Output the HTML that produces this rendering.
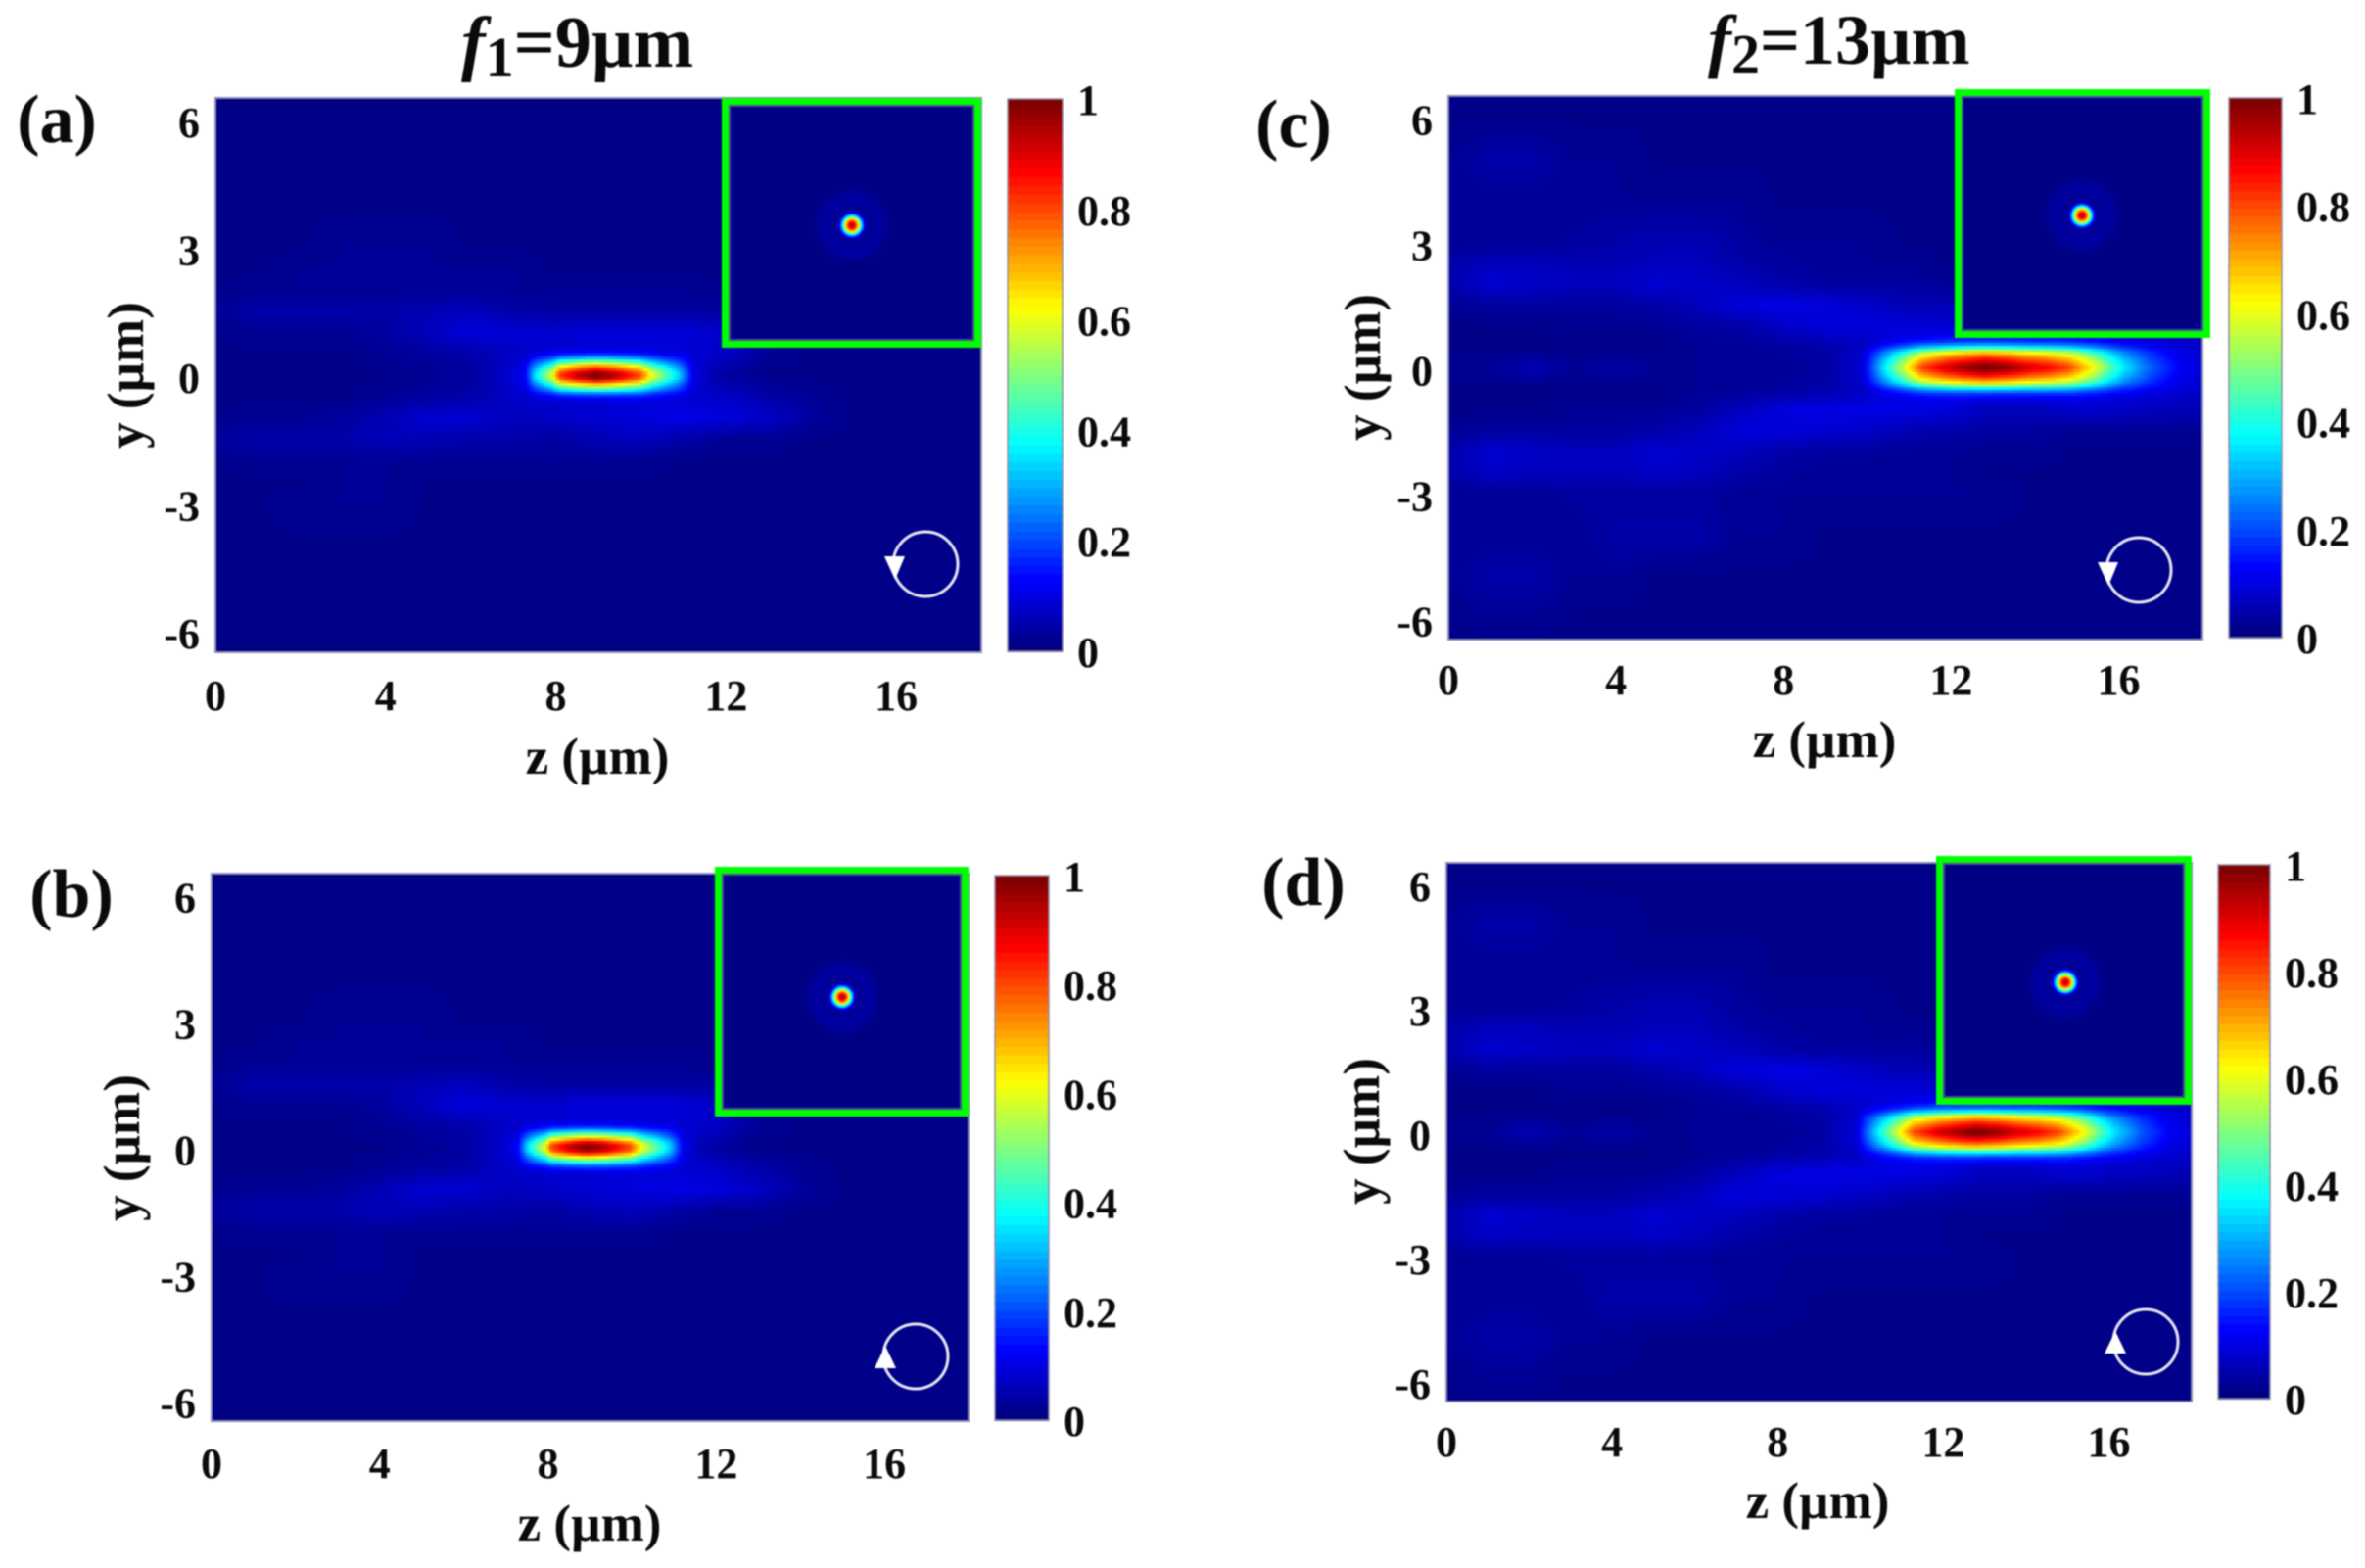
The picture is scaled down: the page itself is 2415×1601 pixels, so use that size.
<!DOCTYPE html>
<html lang="en">
<head>
<meta charset="utf-8">
<title>Focal field maps for f1=9 µm and f2=13 µm</title>
<style>
html,body{margin:0;padding:0;background:#fff;}
svg{display:block;filter:blur(0.7px);}
text{font-family:"Liberation Serif","DejaVu Serif",serif;font-weight:bold;fill:#0a0a0a;}
</style>
</head>
<body>
<svg id="figure" xmlns="http://www.w3.org/2000/svg" width="2415" height="1601" viewBox="0 0 2415 1601">
<rect x="0" y="0" width="2415" height="1601" fill="#ffffff"/>
<text x="471" y="68" font-size="74"><tspan font-style="italic">f</tspan><tspan dy="10" font-size="58">1</tspan><tspan dy="-10">=9µm</tspan></text>
<text x="1744" y="65" font-size="72"><tspan font-style="italic">f</tspan><tspan dy="10" font-size="58">2</tspan><tspan dy="-10">=13µm</tspan></text>
</svg>
<script>
const zTicks = [0, 4, 8, 12, 16];
const yTicks = [6, 3, 0, -3, -6];
const yTickLabels = ['6', '3', '0', '-3', '-6'];
const colorbarTicks = [0, 0.2, 0.4, 0.6, 0.8, 1];
const colorbarTickLabels = ['0', '0.2', '0.4', '0.6', '0.8', '1'];

const hazeZ = [0,1,2,3,4,5,6,7,8,9,10,11,12,13,14,15,16,17,18];
const hazeY = [6.5,6,5,4,3,2.5,2,1.5,1,0.5,0,-0.5,-1,-1.5,-2,-2.5,-3,-4,-5,-6,-6.5];
const hazeFloorPercent = 1;

const hazeF1 = [
[1,1,1,1,1,1,1,1,1,1,1,1,1,1,1,1,1,1,1],
[2,2,2,2,2,2,2,2,2,2,2,2,2,2,2,2,2,2,2],
[2,2,2,2,2,2,2,2,2,2,2,2,2,2,2,2,2,2,2],
[2,2,2,2,2,2,2,2,2,2,2,2,2,2,2,2,2,2,2],
[2,2,2,3,3,3,2,2,2,2,2,2,2,2,2,2,2,2,2],
[2,2,3,3,3,3,3,3,2,2,2,2,2,2,2,2,2,2,2],
[2,3,3,3,3,3,3,3,3,3,3,3,2,2,2,2,2,2,2],
[3,5,5,5,5,6,7,5,4,4,4,4,4,3,2,2,2,2,2],
[2,3,3,3,4,7,10,9,9,10,10,10,8,3,2,2,2,2,2],
[2,2,2,2,3,4,5,8,9,9,9,9,8,3,2,2,2,2,2],
[2,2,2,2,2,3,4,9,12,12,12,9,4,2,2,2,2,2,2],
[2,2,2,2,3,4,5,8,9,9,10,9,8,5,3,2,2,2,2],
[2,3,3,4,6,9,9,7,8,9,10,11,10,8,4,2,2,2,2],
[4,5,5,5,7,6,5,5,4,6,7,5,3,3,2,2,2,2,2],
[2,3,3,3,3,3,3,3,3,3,3,2,2,2,2,2,2,2,2],
[2,2,2,3,3,2,2,2,2,2,2,2,2,2,2,2,2,2,2],
[2,2,3,3,3,2,2,2,2,2,2,2,2,2,2,2,2,2,2],
[2,2,2,2,2,2,2,2,2,2,2,2,2,2,2,2,2,2,2],
[2,2,2,2,2,2,2,2,2,2,2,2,2,2,2,2,2,2,2],
[2,2,2,2,2,2,2,2,2,2,2,2,2,2,2,2,2,2,2],
[1,1,1,1,1,1,1,1,1,1,1,1,1,1,1,1,1,1,1]
];

const hazeF2 = [
[2,2,2,2,2,2,2,2,2,2,2,2,2,2,2,2,2,2,2],
[2,2,2,2,2,2,2,2,2,2,2,2,2,2,2,2,2,2,2],
[3,5,5,3,3,2,2,2,2,2,2,2,2,2,2,2,2,2,2],
[3,3,3,3,3,3,3,3,2,2,2,2,2,2,2,2,2,2,2],
[3,3,3,4,5,6,6,4,3,3,3,2,2,2,2,2,2,2,2],
[5,7,7,6,6,7,7,5,4,3,3,3,2,2,2,2,2,2,2],
[5,9,8,7,7,9,8,7,5,4,4,4,3,3,3,3,3,3,3],
[3,4,4,4,4,5,7,10,11,10,8,6,6,5,4,4,4,4,4],
[2,2,2,3,3,3,4,5,8,10,10,10,9,9,8,8,6,5,5],
[2,2,2,2,2,2,3,3,4,5,7,9,11,11,11,11,10,9,8],
[3,3,6,3,5,3,3,3,3,4,7,10,10,10,10,10,10,10,9],
[2,2,2,2,2,2,3,3,4,5,7,9,10,9,10,11,10,9,8],
[2,2,2,3,3,3,4,7,10,11,11,11,10,7,7,9,8,7,6],
[3,4,4,4,4,5,7,10,10,9,8,6,5,4,4,3,3,3,3],
[5,9,8,7,7,9,8,7,5,4,4,3,3,3,3,2,2,2,2],
[5,8,7,7,7,8,7,5,4,3,3,3,3,2,2,2,2,2,2],
[3,3,3,4,4,4,4,3,3,3,3,3,3,3,2,2,2,2,2],
[3,3,3,3,5,5,5,3,3,2,2,2,2,2,2,2,2,2,2],
[3,5,5,3,3,2,2,2,2,2,2,2,2,2,2,2,2,2,2],
[2,3,3,2,2,2,2,2,2,2,2,2,2,2,2,2,2,2,2],
[2,2,2,2,2,2,2,2,2,2,2,2,2,2,2,2,2,2,2]
];

const coreZF1 = [6.93,7.28,7.5,7.93,8.08,8.53,8.93,9.33,9.96,10.26,10.91,11.23,11.63];
const coreAxialF1 = [0,0.03,0.24,0.5,0.7,0.83,0.9,0.85,0.7,0.5,0.24,0.03,0];
const coreTransverseYF1 = [-0.68,-0.57,-0.45,-0.36,-0.24,-0.16,-0.08,0,0.08,0.16,0.24,0.36,0.45,0.57,0.68];
const coreTransverseF1 = [0,0.03,0.14,0.35,0.6,0.8,0.96,1,0.96,0.8,0.6,0.35,0.14,0.03,0];

const coreZF2 = [9,9.3,9.9,10.35,10.93,11.3,11.9,12.4,12.8,13.34,13.8,14.3,14.8,15.44,15.8,16.14,16.8,17.47,18];
const coreAxialF2 = [0,0.01,0.03,0.26,0.52,0.72,0.83,0.89,0.93,0.89,0.83,0.79,0.72,0.52,0.37,0.26,0.12,0.03,0.01];
const coreTransverseYF2 = [-0.9,-0.74,-0.6,-0.47,-0.38,-0.24,-0.08,0,0.08,0.24,0.38,0.47,0.6,0.74,0.9];
const coreTransverseF2 = [0,0.03,0.125,0.35,0.6,0.8,0.95,1,0.95,0.8,0.6,0.35,0.125,0.03,0];

const spotRadii = [0,3,5,7.5,9.5,11,13,15,18,22,28,34,38];
const spotValues = [0.95,0.9,0.8,0.62,0.42,0.3,0.12,0.04,0.02,0.025,0.035,0.022,0.015];

const SVG_NS = 'http://www.w3.org/2000/svg';
const figure = document.getElementById('figure');

const layouts = [
  {id:'a', L:220, R:1002, T:100, B:666, cbL:1029, cbR:1085, cbT:101, cbB:665, gL:737, gR:1002, gT:100, gB:355,
   spotX:870, spotY:230, cirX:945, cirY:576, up:false, tagX:58, tagY:126, zlX:610, zlY:775, ylX:131, ylY:383, xTickDy:46,
   haze:hazeF1, coreZ:coreZF1, coreA:coreAxialF1, coreY:coreTransverseYF1, coreT:coreTransverseF1},
  {id:'b', L:216, R:989, T:892, B:1451, cbL:1016, cbR:1071, cbT:894, cbB:1450, gL:730, gR:989, gT:885, gB:1140,
   spotX:860, spotY:1018, cirX:935, cirY:1385, up:true, tagX:73, tagY:917, zlX:602, zlY:1558, ylX:127, ylY:1172, xTickDy:45,
   haze:hazeF1, coreZ:coreZF1, coreA:coreAxialF1, coreY:coreTransverseYF1, coreT:coreTransverseF1},
  {id:'c', L:1479, R:2249, T:98, B:653, cbL:2276, cbR:2330, cbT:100, cbB:651, gL:1996, gR:2257, gT:91, gB:345,
   spotX:2126, spotY:220, cirX:2184, cirY:582, up:false, tagX:1321, tagY:131, zlX:1863, zlY:758, ylX:1394, ylY:375, xTickDy:43,
   haze:hazeF2, coreZ:coreZF2, coreA:coreAxialF2, coreY:coreTransverseYF2, coreT:coreTransverseF2},
  {id:'d', L:1477, R:2238, T:881, B:1431, cbL:2265, cbR:2318, cbT:883, cbB:1428, gL:1977, gR:2238, gT:874, gB:1128,
   spotX:2109, spotY:1003, cirX:2191, cirY:1370, up:true, tagX:1331, tagY:905, zlX:1856, zlY:1535, ylX:1393, ylY:1155, xTickDy:43,
   haze:hazeF2, coreZ:coreZF2, coreA:coreAxialF2, coreY:coreTransverseYF2, coreT:coreTransverseF2}
];

function clamp01(v){ return v < 0 ? 0 : (v > 1 ? 1 : v); }
function jet(v){
  const r = clamp01(1.5 - Math.abs(4 * v - 3));
  const g = clamp01(1.5 - Math.abs(4 * v - 2));
  const b = clamp01(1.5 - Math.abs(4 * v - 1));
  return 'rgb(' + Math.round(r * 255) + ',' + Math.round(g * 255) + ',' + Math.round(b * 255) + ')';
}
function make(parent, tag, attrs){
  const el = document.createElementNS(SVG_NS, tag);
  for (const k in attrs) el.setAttribute(k, attrs[k]);
  parent.appendChild(el);
  return el;
}
function lerpTable(xs, ys, x){
  const asc = xs[xs.length - 1] > xs[0];
  const n = xs.length;
  if (asc ? x <= xs[0] : x >= xs[0]) return ys[0];
  if (asc ? x >= xs[n - 1] : x <= xs[n - 1]) return ys[n - 1];
  for (let i = 0; i < n - 1; i++) {
    const inside = asc ? (x >= xs[i] && x <= xs[i + 1]) : (x <= xs[i] && x >= xs[i + 1]);
    if (inside) {
      const t = (x - xs[i]) / (xs[i + 1] - xs[i]);
      return ys[i] + t * (ys[i + 1] - ys[i]);
    }
  }
  return 0;
}
function hazeAt(matrix, z, y){
  let c = Math.floor(z);
  if (c < 0) c = 0;
  if (c > hazeZ.length - 2) c = hazeZ.length - 2;
  const tz = clamp01((z - hazeZ[c]) / (hazeZ[c + 1] - hazeZ[c]));
  let r = 0;
  while (r < hazeY.length - 2 && y < hazeY[r + 1]) r++;
  const ty = clamp01((y - hazeY[r]) / (hazeY[r + 1] - hazeY[r]));
  const top = matrix[r][c] + tz * (matrix[r][c + 1] - matrix[r][c]);
  const bot = matrix[r + 1][c] + tz * (matrix[r + 1][c + 1] - matrix[r + 1][c]);
  return (top + ty * (bot - top) - hazeFloorPercent) / 100;
}

layouts.forEach(function(p){
  const xScale = function(z){ return p.L + z / 18 * (p.R - p.L); };
  const yScale = function(y){ return p.T + (6.5 - y) / 13 * (p.B - p.T); };
  const zFromPx = function(px){ return (px - p.L) / (p.R - p.L) * 18; };
  const yFromPx = function(py){ return 6.5 - (py - p.T) / (p.B - p.T) * 13; };
  const cbScale = function(v){ return p.cbB - v * (p.cbB - p.cbT); };

  const panel = make(figure, 'g', {});
  
  

  const heat = make(panel, 'g', {'shape-rendering':'crispEdges'});
  
  

  const pitch = 3;
  const levels = 127;
  for (let py = p.T; py < p.B; py += pitch) {
    const yVal = yFromPx(py + pitch / 2);
    const trans = lerpTable(p.coreY, p.coreT, yVal);
    let runStart = p.L;
    let runLevel = -1;
    for (let px = p.L; ; px += pitch) {
      const atEnd = px >= p.R;
      let level = -2;
      if (!atEnd) {
        const zVal = zFromPx(px + pitch / 2);
        const val = hazeAt(p.haze, zVal, yVal) + lerpTable(p.coreZ, p.coreA, zVal) * trans;
        level = Math.round(clamp01(val) * levels);
      }
      if (level !== runLevel) {
        if (runLevel >= 0) {
          const cell = make(heat, 'rect', {x:runStart, y:py, width:Math.min(px, p.R) - runStart, height:Math.min(pitch, p.B - py), fill:jet(runLevel / levels)});
          
          
        }
        runStart = px;
        runLevel = level;
      }
      if (atEnd) break;
    }
  }

  const frame = make(panel, 'rect', {x:p.L, y:p.T, width:p.R - p.L, height:p.B - p.T, fill:'none', stroke:'#8c8cb4', 'stroke-width':2});
  
  

  const inset = make(panel, 'g', {});
  
  

  const insetBg = make(inset, 'rect', {x:p.gL, y:p.gT, width:p.gR - p.gL, height:p.gB - p.gT, fill:jet(0.005)});
  
  

  const outerR = spotRadii[spotRadii.length - 1];
  for (let r = outerR; r >= 0.5; r -= 1) {
    const ring = make(inset, 'circle', {cx:p.spotX, cy:p.spotY, r:r, fill:jet(lerpTable(spotRadii, spotValues, r))});
    
    
  }

  const insetGrey = make(inset, 'rect', {x:p.gL + 8, y:p.gT + 8, width:p.gR - p.gL - 16, height:p.gB - p.gT - 16, fill:'none', stroke:'#9a9ab4', 'stroke-width':2, opacity:0.5});
  
  

  const insetBox = make(inset, 'rect', {x:p.gL + 3.5, y:p.gT + 3.5, width:p.gR - p.gL - 7, height:p.gB - p.gT - 7, fill:'none', stroke:'#00ff00', 'stroke-width':7});
  
  

  const pol = make(panel, 'g', {});
  
  

  const polCircle = make(pol, 'circle', {cx:p.cirX, cy:p.cirY, r:33, fill:'none', stroke:'#ffffff', 'stroke-width':3, opacity:0.9});
  
  

  const cx = p.cirX, cy = p.cirY;
  const triPts = p.up
    ? (cx - 42) + ',' + (cy + 12) + ' ' + (cx - 20) + ',' + (cy + 12) + ' ' + (cx - 31) + ',' + (cy - 11)
    : (cx - 42) + ',' + (cy - 8) + ' ' + (cx - 21) + ',' + (cy - 8) + ' ' + (cx - 31) + ',' + (cy + 16);
  const polArrow = make(pol, 'polygon', {points:triPts, fill:'#ffffff'});
  
  

  zTicks.forEach(function(t){
    const lbl = make(panel, 'text', {x:xScale(t), y:p.B + p.xTickDy + 13, 'font-size':44, 'text-anchor':'middle'});
    lbl.textContent = String(t);
    
    
  });
  yTicks.forEach(function(t, i){
    const lbl = make(panel, 'text', {x:p.L - 16, y:yScale(t) + 3 + 15, 'font-size':44, 'text-anchor':'end'});
    lbl.textContent = yTickLabels[i];
    
    
  });

  const zLabel = make(panel, 'text', {x:p.zlX, y:p.zlY + 15, 'font-size':53, 'text-anchor':'middle'});
  zLabel.textContent = 'z (µm)';
  
  

  const yLabel = make(panel, 'text', {x:0, y:0, 'font-size':53, 'text-anchor':'middle', transform:'translate(' + (p.ylX + 15) + ',' + p.ylY + ') rotate(-90)'});
  yLabel.textContent = 'y (µm)';
  
  

  const tag = make(panel, 'text', {x:p.tagX, y:p.tagY + 19, 'font-size':70, 'text-anchor':'middle'});
  tag.textContent = '(' + p.id + ')';
  
  

  const cb = make(panel, 'g', {'shape-rendering':'crispEdges'});
  
  
  const steps = 64;
  for (let i = 0; i < steps; i++) {
    const y0 = cbScale((i + 1) / steps);
    const y1 = cbScale(i / steps);
    const seg = make(cb, 'rect', {x:p.cbL, y:y0, width:p.cbR - p.cbL, height:y1 - y0 + 1, fill:jet(i / (steps - 1))});
    
    
  }
  const cbFrame = make(panel, 'rect', {x:p.cbL, y:p.cbT, width:p.cbR - p.cbL, height:p.cbB - p.cbT, fill:'none', stroke:'#9090a8', 'stroke-width':1.5});
  
  

  colorbarTicks.forEach(function(v, i){
    const lbl = make(panel, 'text', {x:p.cbR + 15, y:cbScale(v) + 1 + 15, 'font-size':44});
    lbl.textContent = colorbarTickLabels[i];
    
    
  });
});
</script>
</body>
</html>
